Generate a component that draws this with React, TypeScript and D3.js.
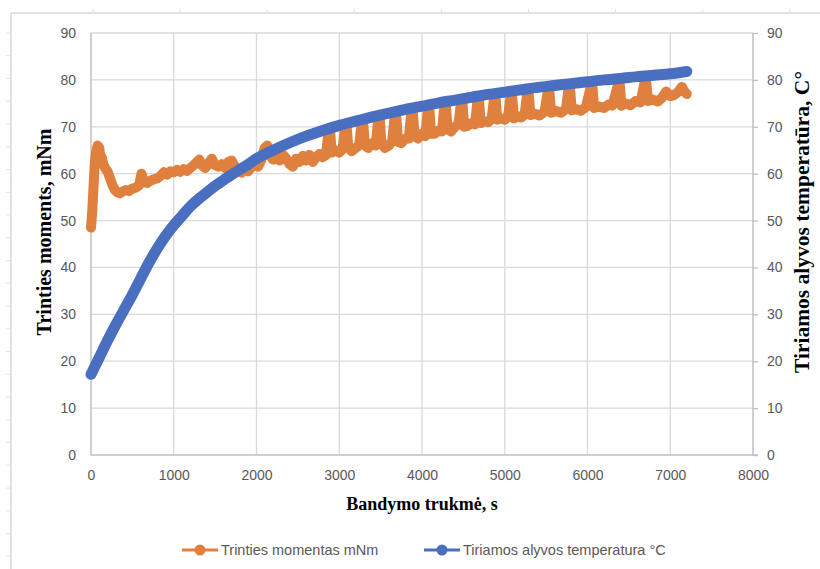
import React, { useEffect, useRef } from 'react';
import * as d3 from 'd3';

// axis ticks
const xTicks = [0, 1000, 2000, 3000, 4000, 5000, 6000, 7000, 8000];
const yTicks = [0, 10, 20, 30, 40, 50, 60, 70, 80, 90];

const seriesNames = ['Trinties momentas mNm', 'Tiriamos alyvos temperatura °C'];

// oil temperature, °C (right axis)
const tempTime = [0, 100, 200, 300, 400, 500, 600, 700, 800, 900, 1000, 1100, 1200, 1300, 1400, 1500, 1600, 1700, 1800, 1900, 2000,
  2200, 2400, 2600, 2800, 3000, 3200, 3400, 3600, 3800, 4000, 4200, 4400, 4600, 4800, 5000, 5200, 5400, 5600, 5800, 6000,
  6200, 6400, 6600, 6800, 7000, 7200];
const tempValue = [17.2, 20.8, 24.4, 27.8, 31, 34.2, 37.6, 41, 44, 46.7, 49, 51, 53, 54.6, 56, 57.4, 58.6, 59.8, 60.9, 62, 63.2,
  65, 66.6, 68, 69.2, 70.3, 71.2, 72.1, 72.9, 73.7, 74.4, 75.1, 75.7, 76.3, 76.9, 77.4, 77.9, 78.4, 78.8, 79.2, 79.6,
  80, 80.3, 80.7, 81, 81.3, 81.8];

// friction moment, mNm (left axis)
const frictionTime = [0, 15, 30, 45, 60, 80, 100, 115, 130, 150, 175, 200, 230, 260, 290, 320, 350, 380, 420, 460, 500, 540, 580,
  610, 640, 680, 720, 760, 800, 840, 880, 920, 960, 1000, 1040, 1080, 1120, 1160, 1200, 1240, 1280, 1310, 1340, 1380, 1420, 1460,
  1500, 1540, 1580, 1620, 1660, 1700, 1740, 1780, 1820, 1860, 1900, 1940, 1980, 2020, 2060, 2100, 2130, 2160, 2200, 2240, 2280,
  2320, 2360, 2400, 2440, 2480, 2520, 2560, 2600, 2640, 2680, 2720, 2760, 2800, 2840, 2870, 2890, 2910, 2950, 3000, 3040, 3070,
  3090, 3110, 3150, 3200, 3240, 3270, 3290, 3310, 3350, 3400, 3440, 3470, 3490, 3510, 3550, 3600, 3640, 3670, 3690, 3710, 3750,
  3800, 3840, 3870, 3890, 3910, 3950, 4000, 4040, 4070, 4090, 4110, 4150, 4200, 4240, 4270, 4290, 4310, 4350, 4400, 4440, 4470,
  4490, 4510, 4550, 4600, 4640, 4670, 4690, 4710, 4750, 4800, 4840, 4870, 4890, 4910, 4950, 5000, 5040, 5070, 5090, 5110, 5150,
  5200, 5240, 5270, 5290, 5310, 5360, 5420, 5480, 5520, 5540, 5560, 5620, 5680, 5740, 5770, 5790, 5810, 5860, 5920, 5980, 6040,
  6060, 6080, 6140, 6200, 6260, 6300, 6370, 6390, 6410, 6460, 6520, 6580, 6640, 6690, 6710, 6730, 6790, 6850, 6900, 6950, 7000,
  7050, 7100, 7140, 7170, 7200];
const frictionValue = [48.5, 52, 57, 62, 64.5, 66, 65.5, 63, 63.5, 62, 61, 60.5, 59, 57.5, 56.5, 56, 55.8, 56.2, 56.5, 56.3, 56.8,
  57, 57.5, 60, 58.2, 58, 58.5, 58.8, 59, 59.5, 60.3, 59.8, 60.5, 60.3, 60.8, 60.4, 61, 60.6, 61.2, 61.8, 62.5, 63, 61.8, 61.2,
  62.2, 63.2, 61.8, 61.5, 62, 61.2, 62.5, 62.8, 61.5, 61, 60.2, 61, 60.5, 61.5, 62, 61.5, 63, 65.5, 66, 64, 63, 63.8, 62.8, 64,
  63.2, 62, 61.5, 63.2, 62.5, 63.8, 62.8, 64, 62.5, 63.5, 64.2, 63.5, 64, 69, 69, 64.5, 65, 64.5, 65.2, 70, 70, 65.5, 64.8, 65.5,
  66, 70.8, 70.8, 66, 65.5, 66.5, 66, 71.5, 71.5, 66.5, 65.5, 66, 67, 72.2, 72.2, 66.8, 66.5, 67.5, 67.5, 73, 73, 68, 67.5, 68.5,
  68, 73.6, 73.6, 68.5, 68.5, 69.2, 69, 74.3, 74.3, 69.5, 69, 70, 70.5, 75, 75, 70, 70.2, 70.8, 70.5, 75.5, 75.5, 70.8, 71.2, 71,
  71.6, 76, 76, 71.5, 71.8, 71.5, 72.2, 76.5, 76.5, 71.8, 72.3, 72, 72.6, 77, 77, 72.5, 72.8, 72.4, 73.2, 77.5, 77.5, 73, 73.4,
  73, 73.8, 78, 78, 73.5, 73.8, 73.4, 74.2, 78.5, 78.5, 74, 74.3, 74, 74.8, 74.5, 79, 79, 74.5, 75, 74.6, 75.5, 75.2, 79.5, 79.5,
  75.5, 75.8, 75.4, 76.2, 77.5, 76.5, 76.8, 77.5, 78.5, 77.5, 77];

const ORANGE = '#E0803F';
const BLUE = '#4A6FC0';
const GRID = '#d9d9d9';
const TEXT = '#595959';

const FrictionChart = () => {
  const svgRef = useRef(null);

  useEffect(() => {
    const svg = d3.select(svgRef.current);
    svg.selectAll('*').remove();

    const margin = { top: 33, right: 67, bottom: 114, left: 91 };
    const width = 820 - margin.left - margin.right;
    const height = 569 - margin.top - margin.bottom;

    // outer chart frame (left and top edges only are visible)
    svg.append('rect').attr('width', 820).attr('height', 569).attr('fill', '#fff');
    svg.append('line').attr('x1', 11).attr('x2', 11).attr('y1', 13).attr('y2', 569)
      .attr('stroke', GRID).attr('stroke-width', 1.5);
    svg.append('line').attr('x1', 11).attr('x2', 820).attr('y1', 13).attr('y2', 13)
      .attr('stroke', GRID).attr('stroke-width', 1.5);
    svg.append('g').selectAll('line').data(d3.range(33, 569, 22.75)).enter().append('line')
      .attr('x1', 6).attr('x2', 11).attr('y1', d => d).attr('y2', d => d)
      .attr('stroke', '#e4e4e4');
    svg.append('g').selectAll('line').data(d3.range(93, 820, 87.1)).enter().append('line')
      .attr('x1', d => d).attr('x2', d => d).attr('y1', 9).attr('y2', 13)
      .attr('stroke', '#e4e4e4');

    const g = svg.append('g').attr('transform', `translate(${margin.left},${margin.top})`);

    const x = d3.scaleLinear().domain([0, 8000]).range([0, width]);
    const yLeft = d3.scaleLinear().domain([0, 90]).range([height, 0]);
    const yRight = d3.scaleLinear().domain([0, 90]).range([height, 0]);

    // gridlines
    g.append('g').selectAll('line').data(yTicks.slice(1)).enter().append('line')
      .attr('x1', 0).attr('x2', width)
      .attr('y1', d => yLeft(d)).attr('y2', d => yLeft(d))
      .attr('stroke', GRID).attr('stroke-width', 1.3);
    g.append('g').selectAll('line').data(xTicks.slice(1, -1)).enter().append('line')
      .attr('x1', d => x(d)).attr('x2', d => x(d))
      .attr('y1', 0).attr('y2', height)
      .attr('stroke', GRID).attr('stroke-width', 1.3);

    // axes
    const xAxis = g.append('g').attr('transform', `translate(0,${height})`)
      .call(d3.axisBottom(x).tickValues(xTicks).tickSize(0).tickPadding(15).tickFormat(d3.format('d')));
    const leftAxis = g.append('g')
      .call(d3.axisLeft(yLeft).tickValues(yTicks).tickSize(0).tickPadding(15).tickFormat(d3.format('d')));
    const rightAxis = g.append('g').attr('transform', `translate(${width},0)`)
      .call(d3.axisRight(yRight).tickValues(yTicks).tickSize(5).tickPadding(9).tickFormat(d3.format('d')));

    [xAxis, leftAxis, rightAxis].forEach(a => {
      a.select('.domain').attr('stroke', '#bfbfbf').attr('stroke-width', 1.5);
      a.selectAll('.tick line').attr('stroke', '#bfbfbf').attr('stroke-width', 1.3);
      a.selectAll('.tick text')
        .attr('fill', TEXT)
        .style('font-family', '"Liberation Sans", Arial, sans-serif')
        .style('font-size', '14px');
    });
    rightAxis.select('.domain').attr('d', `M0,0V${height}`);
    leftAxis.select('.domain').attr('d', `M0,0V${height}`);
    xAxis.select('.domain').attr('d', `M0,0H${width + 5}`);

    // series
    const frictionData = frictionTime.map((t, i) => [t, frictionValue[i]]);
    const tempData = tempTime.map((t, i) => [t, tempValue[i]]);

    const frictionLine = d3.line().x(d => x(d[0])).y(d => yLeft(d[1]));
    const tempLine = d3.line().x(d => x(d[0])).y(d => yRight(d[1])).curve(d3.curveMonotoneX);

    g.append('path').datum(frictionData)
      .attr('d', frictionLine)
      .attr('fill', 'none').attr('stroke', ORANGE).attr('stroke-width', 10)
      .attr('stroke-linejoin', 'round').attr('stroke-linecap', 'round');

    g.append('path').datum(tempData)
      .attr('d', tempLine)
      .attr('fill', 'none').attr('stroke', BLUE).attr('stroke-width', 11)
      .attr('stroke-linejoin', 'round').attr('stroke-linecap', 'round');

    // axis titles
    const serif = '"Liberation Serif", "Times New Roman", serif';
    svg.append('text')
      .attr('x', margin.left + width / 2).attr('y', 510)
      .attr('text-anchor', 'middle')
      .style('font-family', serif).style('font-weight', 'bold').style('font-size', '18px')
      .text('Bandymo trukmė, s');
    svg.append('text')
      .attr('transform', 'translate(51,232) rotate(-90)')
      .attr('text-anchor', 'middle')
      .style('font-family', serif).style('font-weight', 'bold').style('font-size', '20px')
      .text('Trinties moments, mNm');
    svg.append('text')
      .attr('transform', 'translate(809,222) rotate(-90)')
      .attr('text-anchor', 'middle')
      .style('font-family', serif).style('font-weight', 'bold').style('font-size', '21.5px')
      .text('Tiriamos alyvos temperatūra, C°');

    // legend
    const legendItems = [
      { name: seriesNames[0], color: ORANGE, x: 182 },
      { name: seriesNames[1], color: BLUE, x: 424 },
    ];
    const legend = svg.append('g').attr('transform', 'translate(0,550)');
    legendItems.forEach(item => {
      legend.append('line')
        .attr('x1', item.x).attr('x2', item.x + 36).attr('y1', 0).attr('y2', 0)
        .attr('stroke', item.color).attr('stroke-width', 3);
      legend.append('circle')
        .attr('cx', item.x + 18).attr('cy', 0).attr('r', 5.5)
        .attr('fill', item.color);
      legend.append('text')
        .attr('x', item.x + 39).attr('y', 5)
        .attr('fill', TEXT)
        .style('font-family', '"Liberation Sans", Arial, sans-serif')
        .style('font-size', '14.5px')
        .text(item.name);
    });
  }, []);

  return (
    <svg ref={svgRef} width={820} height={569} style={{ position: 'absolute', left: 0, top: 0 }}></svg>
  );
};

export default function App() {
  return <FrictionChart />;
}
